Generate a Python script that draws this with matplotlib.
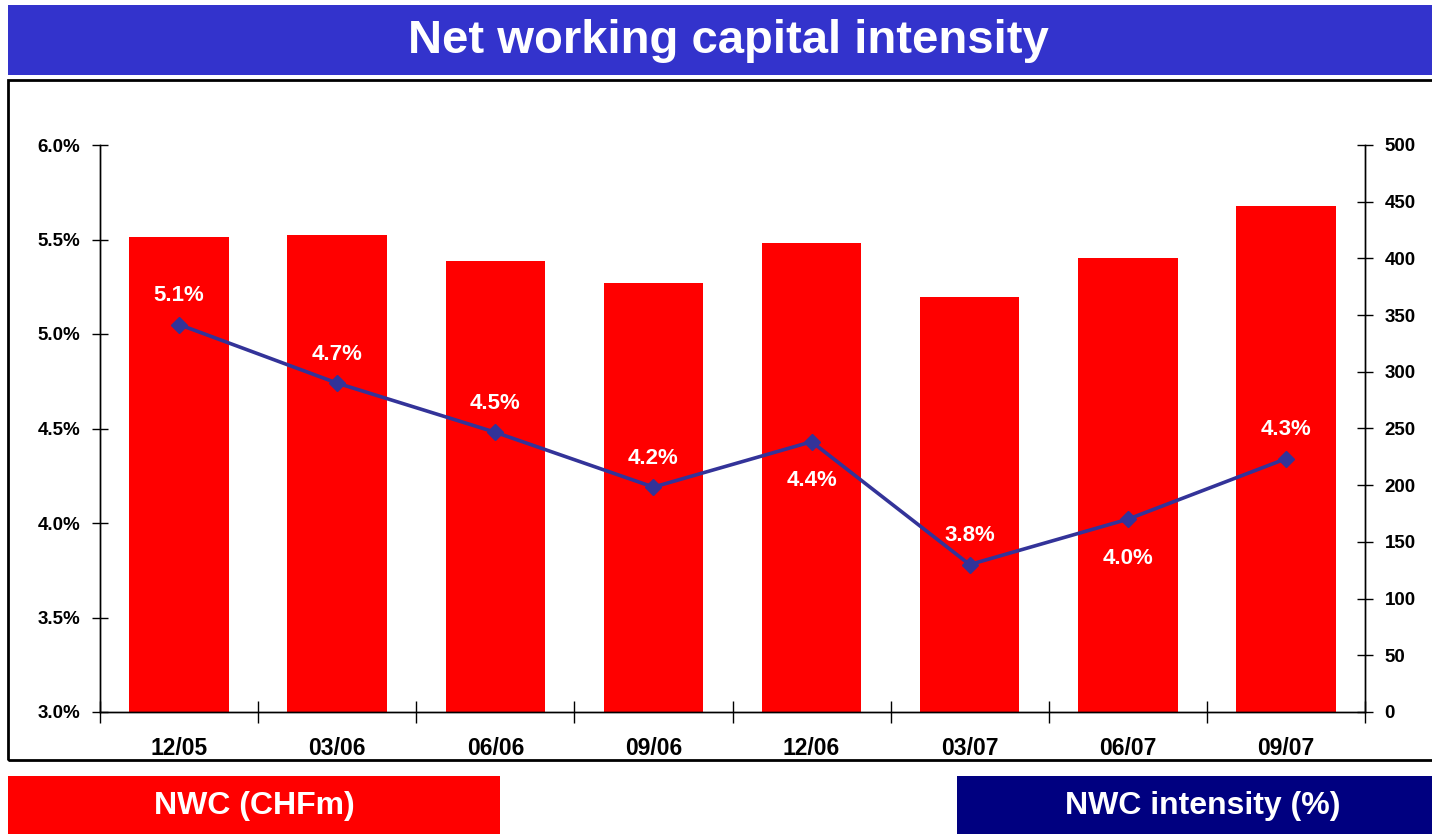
import matplotlib
matplotlib.use("Agg")
import matplotlib.pyplot as plt
from matplotlib.patches import Rectangle

plt.rcParams['font.family'] = ['Liberation Sans', 'DejaVu Sans']
plt.rcParams['font.weight'] = 'bold'

categories = ["12/05", "03/06", "06/06", "09/06", "12/06", "03/07", "06/07", "09/07"]
nwc_chfm = [419, 421, 398, 378, 414, 366, 400, 446]
nwc_intensity = [5.05, 4.74, 4.48, 4.19, 4.43, 3.78, 4.02, 4.34]
intensity_labels = ["5.1%", "4.7%", "4.5%", "4.2%", "4.4%", "3.8%", "4.0%", "4.3%"]
label_above = [True, True, True, True, False, True, False, True]
left_ticks = [3.0, 3.5, 4.0, 4.5, 5.0, 5.5, 6.0]
right_ticks = [0, 50, 100, 150, 200, 250, 300, 350, 400, 450, 500]

W, H = 1432, 836
fig = plt.figure(figsize=(W / 100, H / 100), dpi=100)

def fx(px):
    return px / W

def fy(py):
    return 1 - py / H

# Title bar
fig.patches.append(Rectangle((fx(8), fy(75)), fx(1440) - fx(8), fy(5) - fy(75),
                             transform=fig.transFigure, facecolor='#3333CC', edgecolor='none'))
fig.text(fx(728), fy(41), "Net working capital intensity", color='white', fontsize=34,
         fontweight='bold', ha='center', va='center')

# Chart frame
fig.patches.append(Rectangle((fx(8), fy(760)), fx(1440) - fx(8), fy(80) - fy(760),
                             transform=fig.transFigure, facecolor='none', edgecolor='black', lw=2))

# Bottom legend boxes
fig.patches.append(Rectangle((fx(8), fy(834)), fx(500) - fx(8), fy(776) - fy(834),
                             transform=fig.transFigure, facecolor='#FF0000', edgecolor='none'))
fig.text(fx(254), fy(806), "NWC (CHFm)", color='white', fontsize=23, fontweight='bold',
         ha='center', va='center')
fig.patches.append(Rectangle((fx(957), fy(834)), fx(1440) - fx(957), fy(776) - fy(834),
                             transform=fig.transFigure, facecolor='#000080', edgecolor='none'))
fig.text(fx(1203), fy(806), "NWC intensity (%)", color='white', fontsize=23, fontweight='bold',
         ha='center', va='center')

# Axes
ax_bar = fig.add_axes([fx(100), fy(712), fx(1365) - fx(100), fy(145) - fy(712)])
x = list(range(len(categories)))
ax_bar.bar(x, nwc_chfm, width=0.63, color='#FF0000', zorder=2)
ax_bar.set_xlim(-0.5, len(categories) - 0.5)
ax_bar.set_ylim(0, 500)

ax_bar.set_xticks([i + 0.5 for i in range(-1, len(categories))], minor=False)
ax_bar.set_xticklabels([])
ax_bar.set_xticks(x, minor=True)
ax_bar.set_xticklabels(categories, minor=True, fontsize=16.5, fontweight='bold')
ax_bar.tick_params(axis='x', which='major', direction='inout', length=16, width=1)
ax_bar.tick_params(axis='x', which='minor', length=0, pad=18)

ax_line = ax_bar.twinx()
ax_bar.yaxis.tick_right()
ax_bar.yaxis.set_label_position('right')
ax_line.yaxis.tick_left()
ax_line.yaxis.set_label_position('left')

ax_bar.set_yticks(right_ticks)
ax_bar.set_yticklabels([str(v) for v in right_ticks], fontsize=13.5, fontweight='bold')
ax_bar.tick_params(axis='y', direction='inout', length=12, width=1, pad=8)

ax_line.plot(x, nwc_intensity, color='#333399', lw=2.6, marker='D', markersize=8, zorder=3)
ax_line.set_ylim(3.0, 6.0)
ax_line.set_yticks(left_ticks)
ax_line.set_yticklabels([f"{v:.1f}%" for v in left_ticks], fontsize=13.5, fontweight='bold')
ax_line.tick_params(axis='y', direction='inout', length=12, width=1, pad=8)

for a in (ax_bar, ax_line):
    a.spines['top'].set_visible(False)
    for s in ['left', 'right', 'bottom']:
        a.spines[s].set_linewidth(1)

for xi, v, lab, above in zip(x, nwc_intensity, intensity_labels, label_above):
    off = 29 if above else -39
    ax_line.annotate(lab, (xi, v), xytext=(0, off), textcoords='offset pixels',
                     ha='center', va='center', color='white', fontsize=16, fontweight='bold')

fig.savefig("out.png", dpi=100)
